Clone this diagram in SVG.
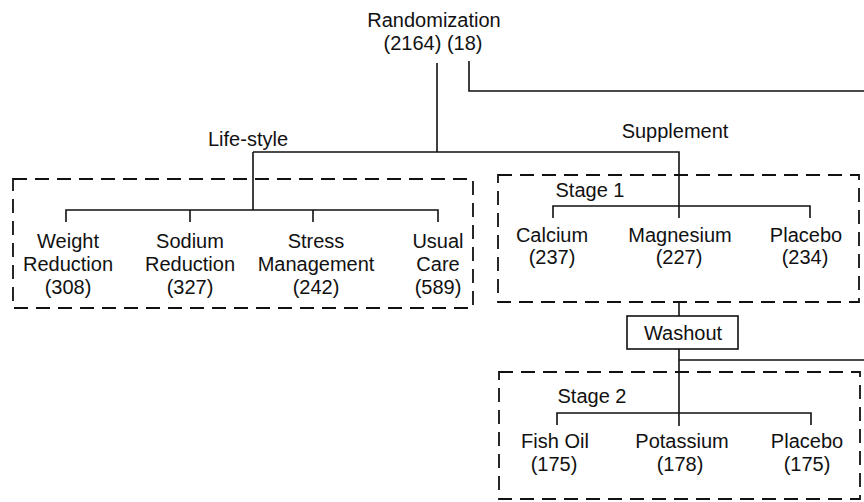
<svg xmlns="http://www.w3.org/2000/svg" width="864" height="502" viewBox="0 0 864 502">
<style>
text{font-family:"Liberation Sans",Arial,sans-serif;font-size:20px;fill:#111;text-anchor:middle}
.ln{fill:none;stroke:#111;stroke-width:1.6}
.dash{fill:none;stroke:#111;stroke-width:1.8;stroke-dasharray:14 8}
.box{fill:#fff;stroke:#111;stroke-width:1.6}
</style>
<rect width="864" height="502" fill="#fff"/>
<g id="groups">
<rect class="dash" x="13" y="179" width="460" height="129"/>
<rect class="dash" x="498" y="175" width="361" height="127"/>
<rect class="dash" x="499" y="372" width="361" height="127"/>
</g>
<g id="connectors">
<path class="ln" d="M437,63 V152"/>
<path class="ln" d="M469,61 V91 H864"/>
<path class="ln" d="M253,152 H679 V218"/>
<path class="ln" d="M253,152 V210"/>
<path class="ln" d="M66,222 V210 H438 V222 M190,210 V222 M313,210 V222"/>
<path class="ln" d="M553,218 V206 H810 V218"/>
<path class="ln" d="M679,302 V316"/>
<path class="ln" d="M679,349 V426 M679,360 H864"/>
<path class="ln" d="M557,425 V413 H811 V425"/>
</g>
<g id="randomization">
<text x="434" y="27">Randomization</text>
<text x="433" y="50">(2164) (18)</text>
</g>
<g id="lifestyle"><text x="248" y="146">Life-style</text></g>
<g id="supplement"><text x="675" y="138">Supplement</text></g>
<g id="weight"><text x="68" y="248">Weight</text><text x="68" y="271">Reduction</text><text x="68" y="294">(308)</text></g>
<g id="sodium"><text x="190" y="248">Sodium</text><text x="190" y="271">Reduction</text><text x="190" y="294">(327)</text></g>
<g id="stress"><text x="316" y="248">Stress</text><text x="316" y="271">Management</text><text x="316" y="294">(242)</text></g>
<g id="usual"><text x="438" y="248">Usual</text><text x="438" y="271">Care</text><text x="438" y="294">(589)</text></g>
<g id="stage1"><text x="590" y="197">Stage 1</text></g>
<g id="calcium"><text x="552" y="242">Calcium</text><text x="552" y="264">(237)</text></g>
<g id="magnesium"><text x="680" y="242">Magnesium</text><text x="679" y="264">(227)</text></g>
<g id="placebo1"><text x="806" y="242">Placebo</text><text x="805" y="264">(234)</text></g>
<g id="washout"><rect class="box" x="627" y="316" width="111" height="33"/><text x="683" y="340">Washout</text></g>
<g id="stage2"><text x="592" y="403">Stage 2</text></g>
<g id="fishoil"><text x="555" y="448">Fish Oil</text><text x="554" y="471">(175)</text></g>
<g id="potassium"><text x="682" y="448">Potassium</text><text x="680" y="471">(178)</text></g>
<g id="placebo2"><text x="807" y="448">Placebo</text><text x="807" y="471">(175)</text></g>
</svg>
